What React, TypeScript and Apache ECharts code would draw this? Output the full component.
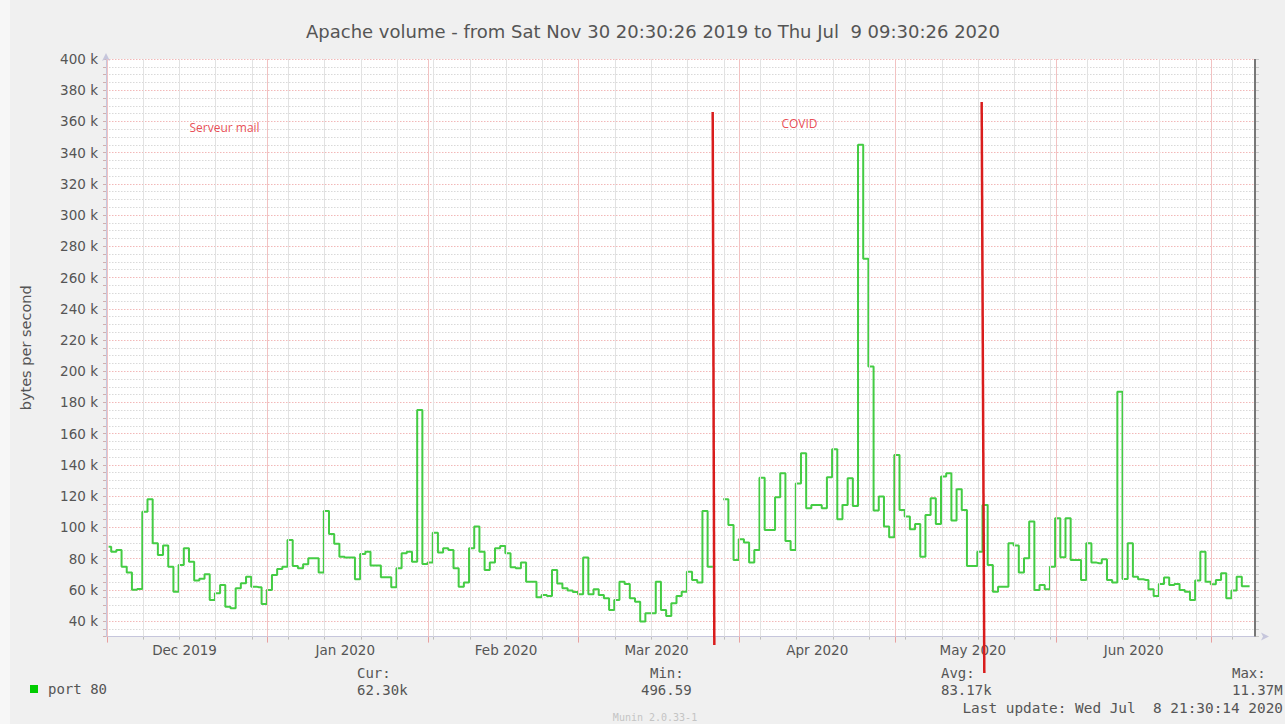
import React, { useEffect, useRef } from "react";
import * as echarts from "echarts";

// ---------- data ----------
const TITLE = "Apache volume - from Sat Nov 30 20:30:26 2019 to Thu Jul  9 09:30:26 2020";
const rangeStart = Date.UTC(2019, 10, 30, 20, 30, 26);
const rangeEnd = Date.UTC(2020, 6, 9, 9, 30, 26);
const DAY = 86400000;

// daily average, k bytes per second, one value per day from the start of the range
const port80K: (number | null)[] = [
  87.6, 84.4, 85.5, 74.8, 71, 60, 60.5, 110, 118, 89.8,
  82.3, 88.3, 74.8, 58.8, 75.9, 86.6, 78, 66, 67, 70,
  53.5, 57.8, 63, 49.2, 48.2, 61, 64.2, 68.4, 62, 61.6,
  50.9, 59.9, 69.5, 73.3, 74.8, 91.9, 75.3, 73.8, 76.3, 80.2,
  80.2, 71, 110.5, 95.8, 89.4, 81.2, 80.6, 80.6, 66.7, 82.9,
  84.4, 75.5, 75.5, 68, 68, 61.6, 73.8, 83.4, 84.4, 78,
  175.2, 76.5, 77.4, 96.6, 83.8, 86.6, 85.5, 73.8, 62, 64.6,
  86.6, 100.5, 84.4, 72.7, 77.4, 86.6, 88, 83.4, 74.4, 73.8,
  77.4, 65.2, 65.2, 55.2, 56.7, 56, 72.7, 64, 61, 59.5,
  58.5, 57.1, 80.6, 57.1, 60.3, 56.7, 54.6, 47.1, 53.5, 65.2,
  63.7, 54.6, 52.4, 39.6, 44.9, 44.9, 65.2, 47.1, 43.2, 51.4,
  56, 58.8, 71.6, 66.3, 64.6, 110.5, 74.8, null, null, 118,
  101.5, 79.1, 92.3, 90.2, 77.4, 85.5, 131.8, 98.3, 98.3, 119.2,
  134.6, 91.3, 85.5, 128, 147.4, 112.2, 114.3, 114.3, 112.2, 132,
  150, 105.2, 114.3, 131.4, 113.7, 345, 272, 203, 110.7, 119.7,
  100.5, 93.6, 146.4, 111.1, 106.9, 98.8, 102.2, 81.2, 107.9, 118.6,
  102.2, 132.5, 134.6, 104.3, 124.4, 111.1, 75.3, 75.3, 84.4, 114.3,
  75.9, 58.8, 62, 62, 89.8, 88.3, 71, 80.2, 103.7, 59.9,
  63.1, 60.3, 74.8, 105.8, 80.8, 105.8, 79.1, 79.1, 66.3, 89.8,
  77.4, 77, 79.5, 66.3, 64.6, 186.9, 66.9, 89.8, 68.4, 66.7,
  66.3, 60.3, 56, 63.7, 67.8, 63.1, 63.7, 59.9, 58.8, 53.5,
  65.9, 84.4, 65.2, 63.5, 66.3, 70.6, 54.6, 59.5, 68.4, 62.3,
  62.3,
];

const monthStarts = [
  Date.UTC(2019, 11, 1), Date.UTC(2020, 0, 1), Date.UTC(2020, 1, 1), Date.UTC(2020, 2, 1),
  Date.UTC(2020, 3, 1), Date.UTC(2020, 4, 1), Date.UTC(2020, 5, 1), Date.UTC(2020, 6, 1),
];
const monthLabelAt = [
  Date.UTC(2019, 11, 16), Date.UTC(2020, 0, 16), Date.UTC(2020, 1, 16), Date.UTC(2020, 2, 16),
  Date.UTC(2020, 3, 16), Date.UTC(2020, 4, 16), Date.UTC(2020, 5, 16),
];
const monthNames = ["Jan", "Feb", "Mar", "Apr", "May", "Jun", "Jul", "Aug", "Sep", "Oct", "Nov", "Dec"];

// hand drawn annotations (red lines and labels)
const annotationLines: [number, number][][] = [
  [[Date.UTC(2020, 2, 26, 20, 0), 366000], [Date.UTC(2020, 2, 27, 3, 30), 24600]],
  [[Date.UTC(2020, 4, 17, 16, 40), 372500], [Date.UTC(2020, 4, 18, 4, 54), 6700]],
];
const annotationLabels = [
  { name: "Serveur mail", value: [Date.UTC(2019, 11, 16, 20, 30), 355800] },
  { name: "COVID", value: [Date.UTC(2020, 3, 8, 23, 30), 359000] },
];

const statsLabels = ["Cur:", "Min:", "Avg:", "Max:"];
const statsValues = ["62.30k", "496.59", "83.17k", "11.37M"];
const LAST_UPDATE = "Last update: Wed Jul  8 21:30:14 2020";
const FOOTER = "Munin 2.0.33-1";

const Y_MIN = 30000;
const Y_MAX = 400000;
const Y_STEP = 5000;

export default function App() {
  const ref = useRef<HTMLDivElement>(null);

  useEffect(() => {
    if (!ref.current) return;
    const chart = echarts.init(ref.current, undefined, { renderer: "svg" });

    const sundays: number[] = [];
    for (let t = Date.UTC(2019, 11, 1); t <= rangeEnd; t += 7 * DAY) sundays.push(t);

    const seriesData = port80K.map((v, i) => [rangeStart + (i + 0.5) * DAY, v == null ? null : v * 1000]);

    const gridLines: any[] = [];
    sundays
      .filter((t) => monthStarts.indexOf(t) < 0)
      .forEach((t) => gridLines.push({ xAxis: t, lineStyle: { color: "#e2e2e2", width: 1, type: "solid" } }));
    monthStarts.forEach((t) => gridLines.push({ xAxis: t, lineStyle: { color: "#f2c2c2", width: 1, type: "solid" } }));
    gridLines.push({ xAxis: rangeEnd, lineStyle: { color: "#777777", width: 2, type: "solid" } });

    const mono = "'DejaVu Sans Mono', monospace";
    const statX = [357, 641, 941, 1232];
    const statLabelX = [357, 650, 941, 1232];
    const graphic: any[] = [
      { type: "rect", shape: { x: 0, y: 0, width: 10, height: 724 }, style: { fill: "#f7f7f7" }, z: -10, silent: true },
    ];
    statsLabels.forEach((s, i) => {
      graphic.push({
        type: "text", x: statLabelX[i], y: 673,
        style: { text: s, fill: "#555", font: `14px ${mono}`, align: "left", verticalAlign: "middle", textAlign: "left", textVerticalAlign: "middle" },
      });
      graphic.push({
        type: "text", x: statX[i], y: 690,
        style: { text: statsValues[i], fill: "#555", font: `14px ${mono}`, align: "left", verticalAlign: "middle", textAlign: "left", textVerticalAlign: "middle" },
      });
    });
    graphic.push({
      type: "text", x: 1283, y: 708,
      style: { text: LAST_UPDATE, fill: "#555", font: `14.4px ${mono}`, align: "right", verticalAlign: "middle", textAlign: "right", textVerticalAlign: "middle" },
    });
    graphic.push({
      type: "text", x: 655, y: 717,
      style: { text: FOOTER, fill: "#c4c4c4", font: `10px ${mono}`, align: "center", verticalAlign: "middle", textAlign: "center", textVerticalAlign: "middle" },
    });

    const option: any = {
      animation: false,
      backgroundColor: "#f0f0f0",
      title: {
        text: TITLE,
        left: 301,
        top: 17,
        textStyle: { fontFamily: "DejaVu Sans", fontSize: 18, fontWeight: "normal", color: "#555" },
      },
      legend: {
        data: ["port 80"],
        left: 30,
        top: 682,
        padding: 0,
        itemWidth: 8,
        itemHeight: 8,
        icon: "rect",
        selectedMode: false,
        textStyle: { fontFamily: "DejaVu Sans Mono", fontSize: 14, color: "#555", padding: [0, 0, 0, 5] },
      },
      grid: {
        left: 106, right: 30, top: 59, bottom: 87.4,
        show: true, backgroundColor: "#ffffff", borderWidth: 0,
      },
      graphic,
      xAxis: [
        {
          type: "value", min: rangeStart, max: rangeEnd, position: "bottom",
          axisLine: {
            show: true, lineStyle: { color: "#c6c6dc", width: 1 },
            symbol: ["none", "arrow"], symbolSize: [6, 8], symbolOffset: [0, 14],
          },
          axisTick: { show: true, customValues: sundays, length: 3, lineStyle: { color: "#bdbdbd" } },
          axisLabel: {
            show: true, customValues: monthLabelAt, margin: 6, hideOverlap: false,
            fontFamily: "DejaVu Sans", fontSize: 13.5, color: "#555",
            formatter: (v: number) => {
              const d = new Date(v);
              return `${monthNames[d.getUTCMonth()]} ${d.getUTCFullYear()}`;
            },
          },
          splitLine: { show: false },
        },
        {
          type: "value", min: rangeStart, max: rangeEnd, position: "bottom",
          axisLine: { show: false },
          axisTick: { show: true, customValues: monthStarts, length: 6, lineStyle: { color: "#e8a0a0" } },
          axisLabel: { show: false },
          splitLine: { show: false },
        },
      ],
      yAxis: [
        {
          type: "value", min: Y_MIN, max: Y_MAX, interval: Y_STEP,
          name: "bytes per second", nameLocation: "middle", nameGap: 73,
          nameTextStyle: { fontFamily: "DejaVu Sans", fontSize: 14.5, color: "#555" },
          axisLine: {
            show: true, lineStyle: { color: "#c6c6dc", width: 1 },
            symbol: ["none", "arrow"], symbolSize: [6, 8], symbolOffset: [0, 6],
          },
          axisTick: { show: true, length: 3, lineStyle: { color: "#d0b0b0" } },
          axisLabel: {
            show: true, interval: 0, margin: 8, fontFamily: "DejaVu Sans", fontSize: 13.5, color: "#555",
            formatter: (v: number) => (v % 20000 === 0 ? `${v / 1000} k` : ""),
          },
          splitLine: {
            show: true,
            lineStyle: { color: ["#d9d9d9", "#d9d9d9", "#f2b8b8", "#d9d9d9"], width: 1, type: [1.5, 1.5] },
          },
        },
        {
          type: "value", min: Y_MIN, max: Y_MAX, interval: Y_STEP, position: "right",
          axisLine: { show: false },
          axisTick: { show: true, length: 4, lineStyle: { color: "#c8c8c8" } },
          axisLabel: { show: false },
          splitLine: { show: false },
        },
      ],
      series: [
        {
          name: "grid",
          type: "line",
          data: [],
          z: 1,
          silent: true,
          markLine: {
            silent: true,
            symbol: ["none", "none"],
            label: { show: false },
            emphasis: { disabled: true },
            data: gridLines,
          },
        },
        {
          name: "port 80",
          type: "line",
          step: "middle",
          showSymbol: false,
          symbol: "none",
          connectNulls: false,
          data: seriesData,
          lineStyle: { color: "#44cc44", width: 2 },
          itemStyle: { color: "#00cc00" },
          z: 3,
          silent: true,
        },
        ...annotationLines.map((pts, i) => ({
          name: `annotation${i}`,
          type: "line",
          data: pts,
          clip: false,
          symbol: "none",
          showSymbol: false,
          lineStyle: { color: "#d91c1c", width: 2.5 },
          z: 6,
          silent: true,
        })),
        {
          name: "labels",
          type: "scatter",
          data: annotationLabels,
          symbolSize: 1,
          itemStyle: { color: "rgba(0,0,0,0)" },
          silent: true,
          z: 6,
          label: {
            show: true, position: "right", distance: 0, formatter: "{b}",
            fontFamily: "Open Sans", fontSize: 12, color: "#e3202a",
          },
        },
      ],
    };

    chart.setOption(option);
    return () => chart.dispose();
  }, []);

  return <div ref={ref} style={{ position: "absolute", left: 0, top: 0, width: 1285, height: 724 }} />;
}
